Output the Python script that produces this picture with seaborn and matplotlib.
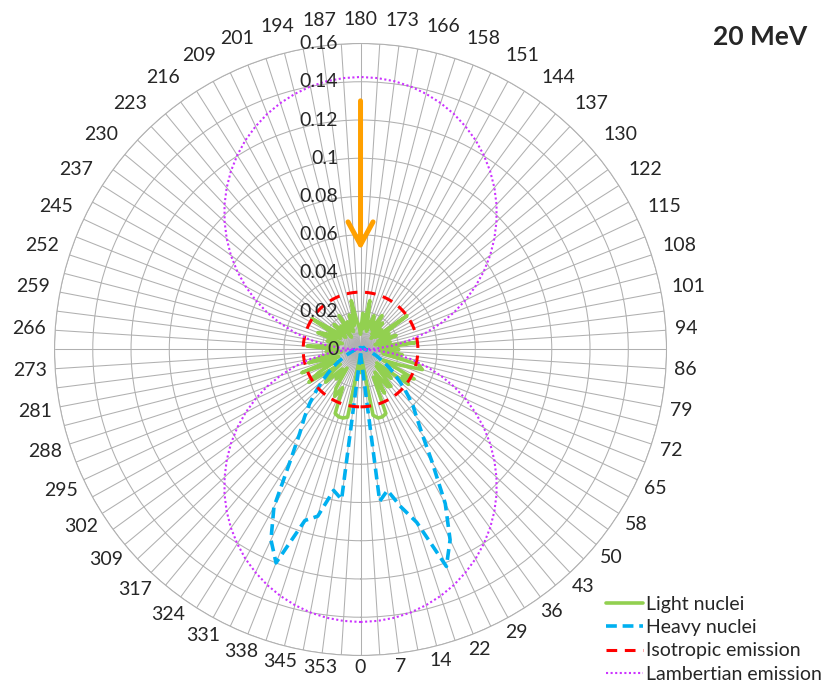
import numpy as np
import matplotlib
matplotlib.use('Agg')
import matplotlib.pyplot as plt
import seaborn as sns

# 100 categories 3.6 deg apart, only every second one gets a label
angle_step = 3.6
tick_labels = ['0', '7', '14', '22', '29', '36', '43', '50', '58', '65',
               '72', '79', '86', '94', '101', '108', '115', '122', '130', '137',
               '144', '151', '158', '166', '173', '180', '187', '194', '201', '209',
               '216', '223', '230', '237', '245', '252', '259', '266', '273', '281',
               '288', '295', '302', '309', '317', '324', '331', '338', '345', '353']

light_nuclei = [
    0.012, 0.004, 0.005, 0.035, 0.037, 0.037, 0.036, 0.016, 0.026, 0.014,
    0.024, 0.025, 0.012, 0.022, 0.011, 0.031, 0.026, 0.032, 0.013, 0.022,
    0.034, 0.031, 0.012, 0.022, 0.010, 0.020, 0.011, 0.029, 0.010, 0.016,
    0.008, 0.020, 0.010, 0.017, 0.012, 0.030, 0.010, 0.015, 0.008, 0.018,
    0.010, 0.021, 0.012, 0.016, 0.019, 0.010, 0.015, 0.026, 0.011, 0.019,
    0.008, 0.012, 0.015, 0.026, 0.013, 0.019, 0.010, 0.016, 0.011, 0.021,
    0.008, 0.016, 0.012, 0.019, 0.010, 0.015, 0.030, 0.012, 0.019, 0.024,
    0.010, 0.018, 0.012, 0.015, 0.028, 0.012, 0.018, 0.010, 0.021, 0.028,
    0.012, 0.033, 0.014, 0.025, 0.032, 0.013, 0.022, 0.025, 0.014, 0.020,
    0.012, 0.024, 0.028, 0.022, 0.036, 0.037, 0.037, 0.036, 0.006, 0.004]

heavy_nuclei = [
    0.002, 0.004, 0.080, 0.075, 0.085, 0.095, 0.122, 0.110, 0.092, 0.070,
    0.055, 0.046, 0.040, 0.033, 0.027, 0.022, 0.018, 0.014, 0.011, 0.009,
    0.007, 0.006, 0.005, 0.004, 0.003, 0.003, 0.002, 0.002, 0.002, 0.002,
    0.002, 0.002, 0.002, 0.002, 0.002, 0.001, 0.001, 0.001, 0.001, 0.001,
    0.001, 0.001, 0.001, 0.001, 0.001, 0.001, 0.001, 0.001, 0.001, 0.001,
    0.001, 0.001, 0.001, 0.001, 0.001, 0.001, 0.001, 0.001, 0.001, 0.001,
    0.001, 0.001, 0.001, 0.001, 0.001, 0.001, 0.002, 0.002, 0.002, 0.002,
    0.002, 0.002, 0.002, 0.002, 0.002, 0.003, 0.003, 0.004, 0.004, 0.005,
    0.006, 0.008, 0.010, 0.013, 0.017, 0.021, 0.026, 0.032, 0.039, 0.046,
    0.054, 0.068, 0.094, 0.110, 0.120, 0.094, 0.090, 0.075, 0.079, 0.004]

isotropic = [0.03] * 100

lambertian = [
    0.1425, 0.1422, 0.1414, 0.1400, 0.1380, 0.1355, 0.1325, 0.1289, 0.1249, 0.1203,
    0.1153, 0.1098, 0.1039, 0.0975, 0.0908, 0.0838, 0.0764, 0.0686, 0.0607, 0.0525,
    0.0440, 0.0354, 0.0267, 0.0179, 0.0089, 0.0000, 0.0089, 0.0179, 0.0267, 0.0354,
    0.0440, 0.0525, 0.0607, 0.0686, 0.0764, 0.0838, 0.0908, 0.0975, 0.1039, 0.1098,
    0.1153, 0.1203, 0.1249, 0.1289, 0.1325, 0.1355, 0.1380, 0.1400, 0.1414, 0.1422,
    0.1425, 0.1422, 0.1414, 0.1400, 0.1380, 0.1355, 0.1325, 0.1289, 0.1249, 0.1203,
    0.1153, 0.1098, 0.1039, 0.0975, 0.0908, 0.0838, 0.0764, 0.0686, 0.0607, 0.0525,
    0.0440, 0.0354, 0.0267, 0.0179, 0.0089, 0.0000, 0.0089, 0.0179, 0.0267, 0.0354,
    0.0440, 0.0525, 0.0607, 0.0686, 0.0764, 0.0838, 0.0908, 0.0975, 0.1039, 0.1098,
    0.1153, 0.1203, 0.1249, 0.1289, 0.1325, 0.1355, 0.1380, 0.1400, 0.1414, 0.1422]

r_ticks = [0, 0.02, 0.04, 0.06, 0.08, 0.1, 0.12, 0.14, 0.16]
r_tick_labels = ['0', '0.02', '0.04', '0.06', '0.08', '0.1', '0.12', '0.14', '0.16']
arrow_start, arrow_end = 0.13, 0.052

sns.set_style('white')
plt.rcParams['font.family'] = ['Lato', 'DejaVu Sans']

fig = plt.figure(figsize=(8.25, 6.83), dpi=100)
ax = fig.add_axes([0.0661, 0.0403, 0.7418, 0.8960], projection='polar')
ax.set_theta_zero_location('S')
ax.set_theta_direction(1)

n = len(light_nuclei)
theta = np.deg2rad(np.arange(n) * angle_step)
theta_c = np.append(theta, 2 * np.pi)

series = [
    ('Light nuclei', light_nuclei, '#92d050', 2.6, '-'),
    ('Heavy nuclei', heavy_nuclei, '#00b0f0', 2.6, (0, (3, 1.6))),
    ('Isotropic emission', isotropic, '#ff0000', 2.2, (0, (3.5, 2.5))),
    ('Lambertian emission', lambertian, '#cc33ff', 1.5, (0, (1, 1.2))),
]
handles = []
for name, vals, col, lw, ls in series:
    r = np.append(vals, vals[0])
    sns.lineplot(x=theta_c, y=r, ax=ax, sort=False, estimator=None,
                 color=col, lw=lw, legend=False)
    line = ax.lines[-1]
    line.set_linestyle(ls)
    handles.append(line)
if ax.get_legend() is not None:
    ax.get_legend().remove()

ax.set_ylim(0, 0.16)
ax.set_xticks(theta)
ax.set_xticklabels([])
ax.set_yticks(r_ticks[1:])
ax.set_yticklabels([])
ax.set_xlabel('')
ax.set_ylabel('')
ax.tick_params(length=0)
ax.grid(True, color='#b0b0b0', lw=0.75)
ax.set_axisbelow(True)
ax.spines['polar'].set_color('#b0b0b0')
ax.spines['polar'].set_linewidth(0.75)

# category labels round the outside
for i, lbl in enumerate(tick_labels):
    a = np.deg2rad(i * 2 * angle_step)
    dx, dy = np.sin(a), -np.cos(a)
    w, h = 8.1 * len(lbl), 16.0
    pad = 6 + (3 * dy if dy > 0 else 5 * dy)
    dist = pad + abs(dx) * w / 2 + abs(dy) * h / 2
    ax.annotate(lbl, xy=(a, 0.16), xytext=(dist * dx, dist * dy),
                textcoords='offset points', ha='center', va='center',
                fontsize=14, annotation_clip=False)

# value labels along the 180 spoke
for v, lbl in zip(r_ticks, r_tick_labels):
    ax.annotate(lbl, xy=(np.pi, v), xytext=(-16, 0), textcoords='offset points',
                ha='right', va='center', fontsize=14, annotation_clip=False)

ax.annotate('', xy=(np.pi, arrow_end), xytext=(np.pi, arrow_start),
            arrowprops=dict(arrowstyle='->,head_length=0.55,head_width=0.3',
                            color='#ffa000', lw=3.6, mutation_scale=30,
                            shrinkA=0, shrinkB=0))

fig.text(0.921, 0.946, '20 MeV', ha='center', va='center',
         fontsize=19, fontweight='bold')

fig.legend(handles=handles,
           labels=['Light nuclei', 'Heavy nuclei', 'Isotropic emission',
                   'Lambertian emission'],
           loc='upper left', bbox_to_anchor=(0.735, 0.128),
           frameon=False, fontsize=14, handlelength=1.9, handletextpad=0.15,
           labelspacing=0.33, borderpad=0, borderaxespad=0)

fig.savefig('out.png', dpi=100)
